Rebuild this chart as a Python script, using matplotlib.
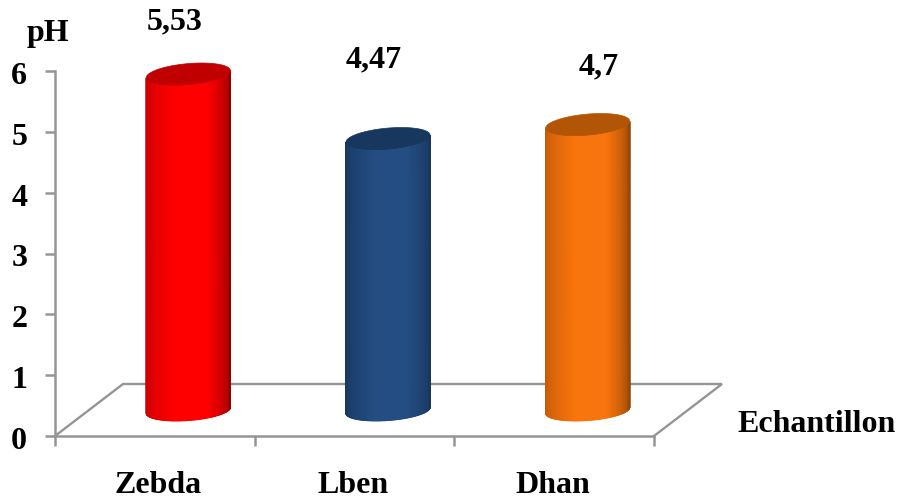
"""pH of the three dairy samples, drawn as pseudo-3D cylinders on a floor."""
import numpy as np
import matplotlib
matplotlib.use("Agg")
import matplotlib.pyplot as plt
from matplotlib.colors import LinearSegmentedColormap
from matplotlib.patches import Polygon
from matplotlib.transforms import ScaledTranslation

samples = ["Zebda", "Lben", "Dhan"]
ph_values = [5.53, 4.47, 4.7]
y_ticks = [0, 1, 2, 3, 4, 5, 6]

# left edge, centre, right edge, cap
shades = [
    ("#c40000", "#ff0000", "#8f0000", "#c00000"),
    ("#17365c", "#244d83", "#17365a", "#17375e"),
    ("#c05808", "#f8740c", "#8f4507", "#b35507"),
]
label_offsets = [(-14, 52), (-14, 79), (11, 58)]  # px from the cap centre
name_shifts = [3.5, -1, -1]  # px, sample names along the x axis

W, H = 898, 499
plt.rcParams["font.family"] = ["Liberation Serif", "DejaVu Serif"]
plt.rcParams["font.weight"] = "bold"
FS = 23

fig = plt.figure(figsize=(W / 100, H / 100), dpi=100)
ax = fig.add_axes([55 / W, 1 - 436 / H, 599 / W, 365 / H])
ax.set_xlim(0, 3)
ax.set_ylim(0, 6)

# px -> data scale factors
sx = 3 / 599
sy = 6 / 365

GRAY = "#959595"
depth_x, depth_y = 68 * sx, 52 * sy

# floor
ax.plot([0, depth_x, 3 + depth_x, 3], [0, depth_y, depth_y, 0],
        color=GRAY, lw=1.7, clip_on=False, zorder=1, solid_joinstyle="miter")

half_w = 42 * sx
t = np.linspace(0, np.pi, 121)
for i, value in enumerate(ph_values):
    cx = i + 0.5 + depth_x / 2 - 0.5 * sx
    base = depth_y / 2 - 0.5 * sy
    top = base + value
    cmap = LinearSegmentedColormap.from_list(
        f"cyl{i}", [(0, shades[i][0]), (0.4, shades[i][1]),
                    (0.65, shades[i][1]), (1, shades[i][2])])

    # front half of both rims, slightly tilted upwards to the right
    x = cx - half_w * np.cos(t)
    lower = base - 10 * sy * np.sin(t) - 3 * sy * np.cos(t)
    upper = top - 10.5 * sy * np.sin(t) - 3.5 * sy * np.cos(t)
    X = np.vstack([x, x])
    Y = np.vstack([lower, upper])
    C = np.vstack([t / np.pi, t / np.pi])
    ax.pcolormesh(X, Y, C, cmap=cmap, shading="gouraud", vmin=0, vmax=1,
                  clip_on=False, zorder=2, rasterized=True)

    # cap
    tt = np.linspace(0, 2 * np.pi, 200)
    cap = np.column_stack([
        cx - half_w * np.cos(tt),
        top - 10.5 * sy * np.sin(tt) - 3.5 * sy * np.cos(tt),
    ])
    ax.add_patch(Polygon(cap, closed=True, fc=shades[i][3], ec=shades[i][3],
                         lw=0.5, clip_on=False, zorder=3))

    dx, dy = label_offsets[i]
    ax.annotate(f"{value}".replace(".", ","), (cx, top), xytext=(dx * 0.72, dy * 0.72),
                textcoords="offset points", ha="center", va="center",
                fontsize=FS, fontweight="bold", annotation_clip=False, zorder=4)

for side in ["top", "right"]:
    ax.spines[side].set_visible(False)
for side in ["left", "bottom"]:
    ax.spines[side].set_color(GRAY)
    ax.spines[side].set_linewidth(1.8)

ax.set_yticks(y_ticks)
ax.set_yticklabels([str(v) for v in y_ticks], fontsize=FS, fontweight="bold")
ax.tick_params(axis="y", direction="out", length=7, width=1.8, color=GRAY, pad=13)
for lab in ax.get_yticklabels():
    lab.set_transform(lab.get_transform() + ScaledTranslation(0, -2 / 100, fig.dpi_scale_trans))

ax.set_xticks([0, 1, 2, 3])
ax.set_xticklabels([])
ax.tick_params(axis="x", which="major", direction="out", length=7, width=1.8, color=GRAY)
ax.set_xticks([0.5, 1.5, 2.5], minor=True)
ax.set_xticklabels(samples, minor=True, fontsize=FS, fontweight="bold")
ax.tick_params(axis="x", which="minor", length=0, pad=25)
for lab, shift in zip(ax.get_xticklabels(minor=True), name_shifts):
    lab.set_transform(lab.get_transform() + ScaledTranslation(shift / 100, 0, fig.dpi_scale_trans))

fig.text(48 / W, 1 - 33 / H, "pH", ha="center", va="center", fontsize=FS, fontweight="bold")
fig.text(817 / W, 1 - 425 / H, "Echantillon", ha="center", va="center",
         fontsize=FS, fontweight="bold")

fig.savefig("out.png", dpi=100)
